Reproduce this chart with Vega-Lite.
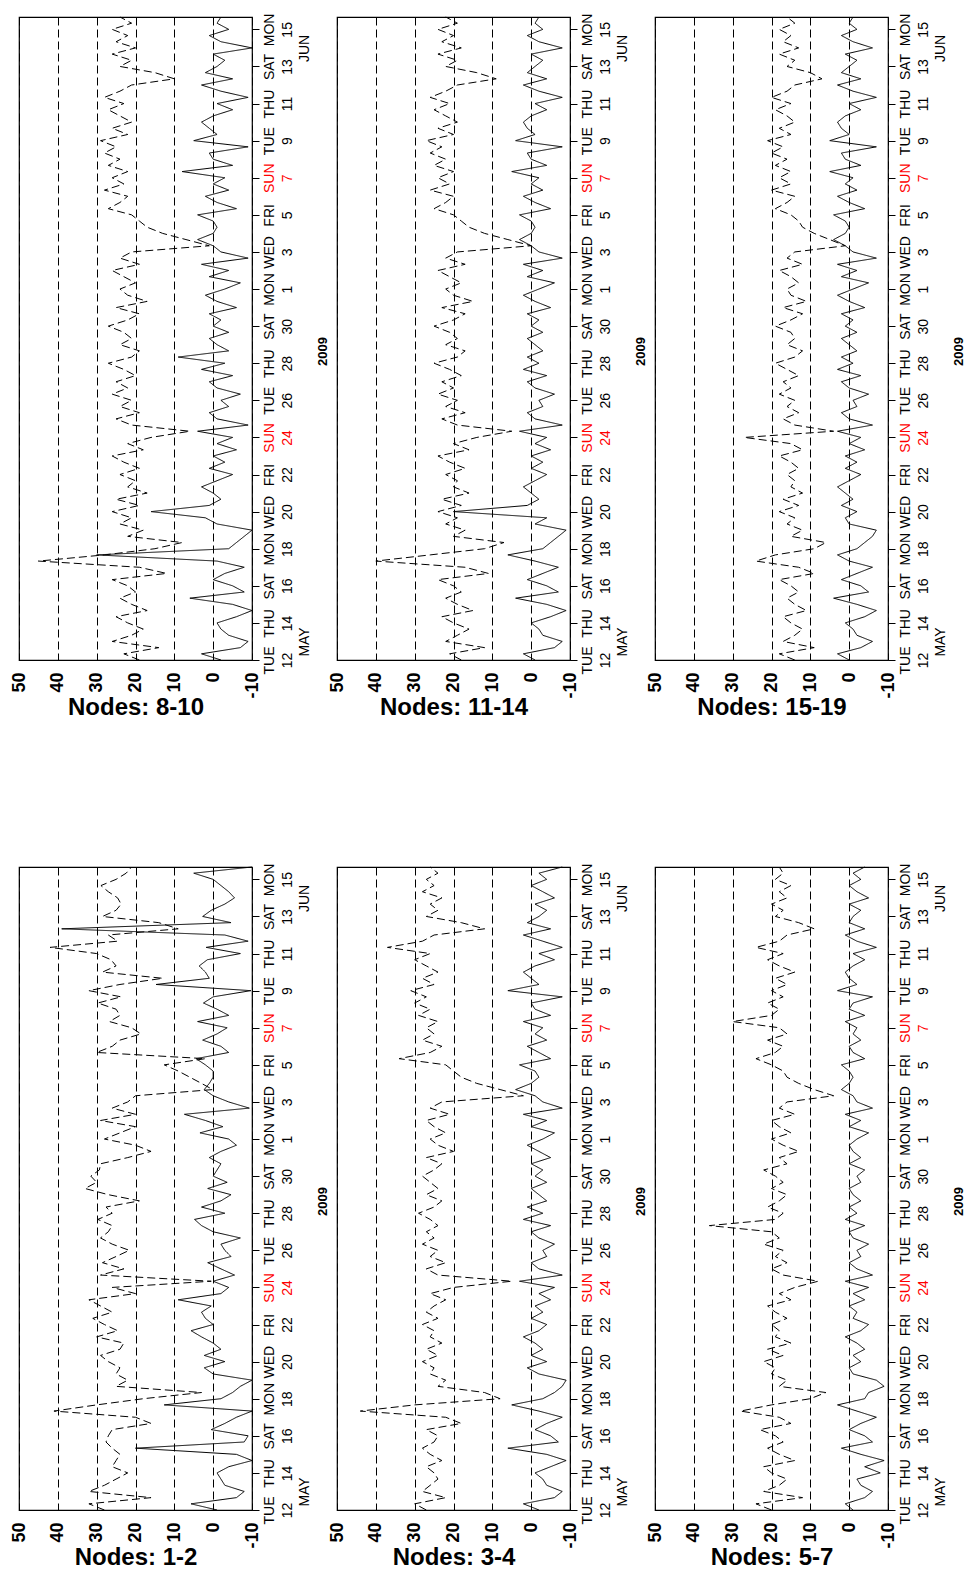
{
"$schema":"https://vega.github.io/schema/vega-lite/v6.json",
"background":"white",
"padding":{"left":9,"top":12,"right":0,"bottom":0},
"data":{"format":{"parse":{"t":"date:'%Y-%m-%d %H'"}},"values":[
{"t":"2009-05-12 00","a1":28,"a2":27,"a3":20,"a4":19,"a5":18,"a6":14,"b1":-1,"b2":-2,"b3":-1,"b4":-2,"b5":-1,"b6":0},
{"t":"2009-05-12 08","a1":32,"a2":30,"a3":24,"a4":23,"a5":21,"a6":18,"b1":5.7,"b2":2,"b3":1,"b4":3,"b5":2,"b6":3},
{"t":"2009-05-12 16","a1":16,"a2":22,"a3":12,"a4":14,"a5":12,"a6":9,"b1":-6,"b2":-6,"b3":-4,"b4":-7,"b5":-6,"b6":-3},
{"t":"2009-05-13 00","a1":32,"a2":28,"a3":22,"a4":26,"a5":22,"a6":17,"b1":-8,"b2":-8,"b3":-6,"b4":-9,"b5":-8,"b6":-6},
{"t":"2009-05-13 08","a1":28,"a2":26,"a3":18,"a4":21,"a5":19,"a6":14,"b1":-3,"b2":-4,"b3":-3,"b4":-4,"b5":-3,"b6":-2},
{"t":"2009-05-13 16","a1":25,"a2":24,"a3":16,"a4":18,"a5":16,"a6":12,"b1":-2,"b2":-3,"b3":-2,"b4":-2,"b5":-2,"b6":-1},
{"t":"2009-05-14 00","a1":22,"a2":25,"a3":20,"a4":22,"a5":20,"a6":15,"b1":-1,"b2":-1,"b3":-8,"b4":-1,"b5":0,"b6":1},
{"t":"2009-05-14 08","a1":26,"a2":27,"a3":22,"a4":25,"a5":23,"a6":17,"b1":-4,"b2":-5,"b3":-4,"b4":-6,"b5":-5,"b6":-4},
{"t":"2009-05-14 16","a1":25,"a2":23,"a3":14,"a4":17,"a5":15,"a6":11,"b1":-10,"b2":-9,"b3":-9,"b4":-10,"b5":-9,"b6":-7},
{"t":"2009-05-15 00","a1":24,"a2":26,"a3":18,"a4":21,"a5":19,"a6":14,"b1":-6,"b2":-4,"b3":-3,"b4":-5,"b5":-4,"b6":-2},
{"t":"2009-05-15 08","a1":26,"a2":28,"a3":21,"a4":24,"a5":22,"a6":16,"b1":20,"b2":6,"b3":2,"b4":6,"b5":4,"b6":4},
{"t":"2009-05-15 16","a1":27.6,"a2":25,"a3":17,"a4":20,"a5":18,"a6":13,"b1":-8,"b2":-7,"b3":-6,"b4":-8,"b5":-7,"b6":-5},
{"t":"2009-05-16 00","a1":27,"a2":24,"a3":19,"a4":22,"a5":20,"a6":15,"b1":-9,"b2":-5,"b3":-4,"b4":-5,"b5":-4,"b6":-3},
{"t":"2009-05-16 08","a1":26,"a2":27,"a3":23,"a4":26,"a5":24,"a6":18,"b1":0.5,"b2":-1,"b3":0,"b4":0,"b5":1,"b6":2},
{"t":"2009-05-16 16","a1":16,"a2":18,"a3":15,"a4":12,"a5":11,"a6":9,"b1":-3,"b2":-4,"b3":-3,"b4":-3,"b5":-3,"b6":-2},
{"t":"2009-05-17 00","a1":20,"a2":22,"a3":18,"a4":19,"a5":17,"a6":13,"b1":-6,"b2":-8,"b3":-7,"b4":-8,"b5":-7,"b6":-6},
{"t":"2009-05-17 08","a1":41,"a2":44,"a3":28,"a4":45,"a5":40,"a6":24,"b1":-10,"b2":-2,"b3":-2,"b4":-1,"b5":-1,"b6":0},
{"t":"2009-05-17 16","a1":30,"a2":30,"a3":20,"a4":28,"a5":26,"a6":19,"b1":12.6,"b2":5,"b3":3,"b4":30,"b5":6,"b6":3},
{"t":"2009-05-18 00","a1":18,"a2":8,"a3":10,"a4":15,"a5":12,"a6":9,"b1":-2,"b2":-3,"b3":-4,"b4":-4,"b5":-3,"b6":-2},
{"t":"2009-05-18 08","a1":3,"a2":12,"a3":6,"a4":8,"a5":7,"a6":6,"b1":-5,"b2":-6,"b3":-5,"b4":-6,"b5":-5,"b6":-4},
{"t":"2009-05-18 16","a1":25,"a2":24,"a3":18,"a4":22,"a5":20,"a6":15,"b1":-7,"b2":-8,"b3":-9,"b4":-8,"b5":-7,"b6":-6},
{"t":"2009-05-19 00","a1":22,"a2":22,"a3":16,"a4":18,"a5":17,"a6":12,"b1":-10,"b2":-9,"b3":-7,"b4":-10,"b5":-9,"b6":-7},
{"t":"2009-05-19 08","a1":25,"a2":26,"a3":20,"a4":24,"a5":22,"a6":16,"b1":0,"b2":-2,"b3":-1,"b4":-1,"b5":-1,"b6":0},
{"t":"2009-05-19 16","a1":24,"a2":25,"a3":19,"a4":21,"a5":19,"a6":14,"b1":2.3,"b2":1,"b3":0,"b4":2,"b5":-4,"b6":1},
{"t":"2009-05-20 00","a1":27,"a2":28,"a3":22,"a4":26,"a5":24,"a6":18,"b1":-3,"b2":-4,"b3":-3,"b4":16,"b5":20,"b6":-2},
{"t":"2009-05-20 08","a1":29,"a2":24,"a3":17,"a4":19,"a5":18,"a6":13,"b1":2.3,"b2":0,"b3":-1,"b4":1,"b5":1,"b6":2},
{"t":"2009-05-20 16","a1":24,"a2":27,"a3":21,"a4":25,"a5":23,"a6":17,"b1":-2,"b2":-3,"b3":-4,"b4":-2,"b5":-2,"b6":-1},
{"t":"2009-05-21 00","a1":23,"a2":23,"a3":15,"a4":17,"a5":16,"a6":12,"b1":0,"b2":-1,"b3":-2,"b4":0,"b5":0,"b6":1},
{"t":"2009-05-21 08","a1":30,"a2":26,"a3":19,"a4":22,"a5":20,"a6":15,"b1":3,"b2":2,"b3":1,"b4":3,"b5":2,"b6":3},
{"t":"2009-05-21 16","a1":24.6,"a2":25,"a3":18,"a4":20,"a5":19,"a6":14,"b1":5.7,"b2":-2,"b3":-3,"b4":-1,"b5":-1,"b6":0},
{"t":"2009-05-22 00","a1":28,"a2":28,"a3":20,"a4":24,"a5":22,"a6":16,"b1":0,"b2":-4,"b3":-5,"b4":-5,"b5":-4,"b6":-3},
{"t":"2009-05-22 08","a1":31,"a2":24,"a3":16,"a4":19,"a5":17,"a6":13,"b1":2,"b2":0,"b3":-1,"b4":1,"b5":0,"b6":1},
{"t":"2009-05-22 16","a1":26,"a2":27,"a3":19,"a4":23,"a5":21,"a6":15,"b1":3,"b2":-3,"b3":-2,"b4":-3,"b5":-3,"b6":-2},
{"t":"2009-05-23 00","a1":29,"a2":25,"a3":21,"a4":26,"a5":24,"a6":18,"b1":0.5,"b2":-1,"b3":0,"b4":0,"b5":0,"b6":1},
{"t":"2009-05-23 08","a1":32,"a2":22,"a3":15,"a4":18,"a5":16,"a6":12,"b1":9,"b2":-5,"b3":-4,"b4":-6,"b5":-5,"b6":-4},
{"t":"2009-05-23 16","a1":20,"a2":26,"a3":18,"a4":22,"a5":20,"a6":15,"b1":-2,"b2":-2,"b3":-1,"b4":-1,"b5":-1,"b6":0},
{"t":"2009-05-24 00","a1":26,"a2":20,"a3":14,"a4":16,"a5":14,"a6":27,"b1":-4,"b2":-6,"b3":-5,"b4":-5,"b5":-4,"b6":-3},
{"t":"2009-05-24 08","a1":0.5,"a2":5,"a3":8,"a4":6,"a5":5,"a6":4,"b1":0,"b2":3,"b3":1,"b4":4,"b5":3,"b6":3},
{"t":"2009-05-24 16","a1":29,"a2":24,"a3":17,"a4":21,"a5":19,"a6":14,"b1":-5.5,"b2":-8,"b3":-6,"b4":-9,"b5":-8,"b6":-6},
{"t":"2009-05-25 00","a1":23,"a2":27,"a3":20,"a4":25,"a5":23,"a6":17,"b1":-2,"b2":-2,"b3":-2,"b4":-1,"b5":-1,"b6":0},
{"t":"2009-05-25 08","a1":28.5,"a2":22,"a3":16,"a4":19,"a5":17,"a6":13,"b1":1.4,"b2":0,"b3":0,"b4":1,"b5":1,"b6":2},
{"t":"2009-05-25 16","a1":25,"a2":26,"a3":19,"a4":24,"a5":22,"a6":16,"b1":-4.6,"b2":-4,"b3":-3,"b4":-4,"b5":-3,"b6":-2},
{"t":"2009-05-26 00","a1":21.6,"a2":24,"a3":17,"a4":21,"a5":19,"a6":14,"b1":-3,"b2":-3,"b3":-2,"b4":-2,"b5":-2,"b6":-1},
{"t":"2009-05-26 08","a1":26,"a2":28,"a3":22,"a4":26,"a5":24,"a6":18,"b1":-2,"b2":-6,"b3":-5,"b4":-7,"b5":-6,"b6":-5},
{"t":"2009-05-26 16","a1":29,"a2":25,"a3":18,"a4":22,"a5":20,"a6":15,"b1":-7,"b2":-2,"b3":-1,"b4":-1,"b5":-1,"b6":0},
{"t":"2009-05-27 00","a1":27,"a2":27,"a3":20,"a4":25,"a5":23,"a6":17,"b1":0,"b2":0,"b3":0,"b4":1,"b5":1,"b6":2},
{"t":"2009-05-27 08","a1":26,"a2":24,"a3":36,"a4":20,"a5":18,"a6":13,"b1":3,"b2":-5,"b3":-4,"b4":-5,"b5":-4,"b6":-3},
{"t":"2009-05-27 16","a1":29.7,"a2":26,"a3":19,"a4":23,"a5":21,"a6":16,"b1":4.8,"b2":2,"b3":1,"b4":3,"b5":2,"b6":3},
{"t":"2009-05-28 00","a1":26,"a2":29,"a3":17,"a4":27,"a5":25,"a6":19,"b1":-3,"b2":-3,"b3":-2,"b4":-3,"b5":-2,"b6":-1},
{"t":"2009-05-28 08","a1":27.6,"a2":25,"a3":21,"a4":21,"a5":19,"a6":14,"b1":3,"b2":1,"b3":0,"b4":9,"b5":1,"b6":2},
{"t":"2009-05-28 16","a1":19,"a2":23,"a3":18,"a4":19,"a5":17,"a6":12,"b1":-2,"b2":-4,"b3":-3,"b4":-4,"b5":-3,"b6":-2},
{"t":"2009-05-29 00","a1":27,"a2":27,"a3":16,"a4":24,"a5":22,"a6":16,"b1":-4.6,"b2":-2,"b3":-1,"b4":-1,"b5":-1,"b6":0},
{"t":"2009-05-29 08","a1":33,"a2":24,"a3":20,"a4":21,"a5":19,"a6":14,"b1":1.4,"b2":0,"b3":0,"b4":1,"b5":1,"b6":2},
{"t":"2009-05-29 16","a1":30,"a2":26,"a3":17,"a4":23,"a5":21,"a6":15,"b1":-3.6,"b2":-4,"b3":-3,"b4":-4,"b5":-3,"b6":-2},
{"t":"2009-05-30 00","a1":31.5,"a2":28,"a3":19,"a4":27,"a5":25,"a6":19,"b1":0,"b2":-1,"b3":-2,"b4":0,"b5":0,"b6":1},
{"t":"2009-05-30 08","a1":29.3,"a2":25,"a3":22,"a4":22,"a5":20,"a6":15,"b1":-1,"b2":-3,"b3":-4,"b4":-2,"b5":-2,"b6":-1},
{"t":"2009-05-30 16","a1":29,"a2":23,"a3":16,"a4":19,"a5":17,"a6":12,"b1":-2,"b2":0,"b3":0,"b4":1,"b5":1,"b6":2},
{"t":"2009-05-31 00","a1":22,"a2":27,"a3":18,"a4":25,"a5":23,"a6":17,"b1":1,"b2":-5,"b3":-3,"b4":-6,"b5":-5,"b6":-4},
{"t":"2009-05-31 08","a1":16,"a2":20,"a3":13,"a4":17,"a5":15,"a6":11,"b1":-2,"b2":-2,"b3":-1,"b4":-1,"b5":-1,"b6":0},
{"t":"2009-05-31 16","a1":20,"a2":24,"a3":17,"a4":22,"a5":20,"a6":15,"b1":-6,"b2":1,"b3":0,"b4":2,"b5":2,"b6":3},
{"t":"2009-06-01 00","a1":28,"a2":26,"a3":20,"a4":24,"a5":22,"a6":16,"b1":-4,"b2":-3,"b3":-2,"b4":-3,"b5":-2,"b6":-1},
{"t":"2009-06-01 08","a1":24,"a2":22,"a3":15,"a4":20,"a5":18,"a6":13,"b1":3.4,"b2":-6,"b3":-5,"b4":-7,"b5":-6,"b6":-5},
{"t":"2009-06-01 16","a1":20,"a2":25,"a3":18,"a4":23,"a5":21,"a6":15,"b1":-2.5,"b2":0,"b3":0,"b4":1,"b5":1,"b6":2},
{"t":"2009-06-02 00","a1":29,"a2":27,"a3":20,"a4":26,"a5":24,"a6":18,"b1":2,"b2":-4,"b3":-3,"b4":-4,"b5":-3,"b6":-2},
{"t":"2009-06-02 08","a1":20,"a2":21,"a3":14,"a4":19,"a5":17,"a6":12,"b1":7.4,"b2":2,"b3":1,"b4":3,"b5":2,"b6":3},
{"t":"2009-06-02 16","a1":26,"a2":26,"a3":18,"a4":24,"a5":22,"a6":16,"b1":-9.3,"b2":-8,"b3":-6,"b4":-9,"b5":-8,"b6":-7},
{"t":"2009-06-03 00","a1":22,"a2":23,"a3":16,"a4":21,"a5":19,"a6":14,"b1":-4,"b2":-3,"b3":-2,"b4":-2,"b5":-2,"b6":-1},
{"t":"2009-06-03 08","a1":20,"a2":2,"a3":4,"a4":1,"a5":0,"a6":1,"b1":0,"b2":-1,"b3":-1,"b4":0,"b5":0,"b6":1},
{"t":"2009-06-03 16","a1":0.1,"a2":8,"a3":9,"a4":7,"a5":6,"a6":5,"b1":2.3,"b2":4,"b3":2,"b4":4,"b5":3,"b6":4},
{"t":"2009-06-04 00","a1":3,"a2":14,"a3":13,"a4":13,"a5":12,"a6":9,"b1":1,"b2":0,"b3":0,"b4":0,"b5":0,"b6":1},
{"t":"2009-06-04 08","a1":6,"a2":18,"a3":16,"a4":17,"a5":16,"a6":12,"b1":0,"b2":-2,"b3":-1,"b4":-1,"b5":-1,"b6":0},
{"t":"2009-06-04 16","a1":9,"a2":20,"a3":17,"a4":19,"a5":18,"a6":13,"b1":0,"b2":-1,"b3":0,"b4":0,"b5":0,"b6":1},
{"t":"2009-06-05 00","a1":12.6,"a2":22,"a3":20,"a4":21,"a5":20,"a6":15,"b1":2,"b2":3,"b3":2,"b4":4,"b5":3,"b6":4},
{"t":"2009-06-05 08","a1":2,"a2":34,"a3":24,"a4":27,"a5":25,"a6":19,"b1":4.4,"b2":-5,"b3":-4,"b4":-6,"b5":-5,"b6":-4},
{"t":"2009-06-05 16","a1":30,"a2":26,"a3":19,"a4":24,"a5":22,"a6":16,"b1":-4,"b2":-2,"b3":-1,"b4":-1,"b5":-1,"b6":0},
{"t":"2009-06-06 00","a1":26,"a2":23,"a3":17,"a4":22,"a5":20,"a6":14,"b1":-2,"b2":1,"b3":0,"b4":2,"b5":2,"b6":3},
{"t":"2009-06-06 08","a1":24,"a2":28,"a3":21,"a4":28,"a5":26,"a6":20,"b1":2.7,"b2":-4,"b3":-3,"b4":-4,"b5":-3,"b6":-2},
{"t":"2009-06-06 16","a1":18.6,"a2":25,"a3":16,"a4":23,"a5":21,"a6":15,"b1":-1,"b2":-1,"b3":-1,"b4":0,"b5":0,"b6":1},
{"t":"2009-06-07 00","a1":21,"a2":27,"a3":18,"a4":26,"a5":24,"a6":18,"b1":-3.6,"b2":-3,"b3":-2,"b4":-3,"b5":-2,"b6":-1},
{"t":"2009-06-07 08","a1":26.7,"a2":24,"a3":30,"a4":22,"a5":20,"a6":15,"b1":4,"b2":2,"b3":1,"b4":8,"b5":5,"b6":5},
{"t":"2009-06-07 16","a1":24,"a2":29,"a3":20,"a4":27,"a5":25,"a6":19,"b1":-4,"b2":-5,"b3":-4,"b4":-5,"b5":-4,"b6":-3},
{"t":"2009-06-08 00","a1":25,"a2":26,"a3":18,"a4":24,"a5":22,"a6":16,"b1":-1,"b2":-1,"b3":0,"b4":0,"b5":0,"b6":1},
{"t":"2009-06-08 08","a1":29.7,"a2":30,"a3":21,"a4":28,"a5":26,"a6":20,"b1":2.5,"b2":0,"b3":-1,"b4":1,"b5":1,"b6":2},
{"t":"2009-06-08 16","a1":23.7,"a2":27,"a3":17,"a4":25,"a5":23,"a6":17,"b1":0,"b2":-8,"b3":-6,"b4":-9,"b5":-8,"b6":-7},
{"t":"2009-06-09 00","a1":32,"a2":31,"a3":20,"a4":29,"a5":27,"a6":21,"b1":-9.7,"b2":6,"b3":3,"b4":5,"b5":4,"b6":5},
{"t":"2009-06-09 08","a1":24,"a2":25,"a3":16,"a4":22,"a5":20,"a6":15,"b1":14.7,"b2":-2,"b3":-2,"b4":-1,"b5":-1,"b6":0},
{"t":"2009-06-09 16","a1":13,"a2":28,"a3":19,"a4":26,"a5":24,"a6":18,"b1":1,"b2":0,"b3":0,"b4":1,"b5":1,"b6":2},
{"t":"2009-06-10 00","a1":28.5,"a2":24,"a3":14,"a4":21,"a5":19,"a6":14,"b1":2,"b2":2,"b3":1,"b4":3,"b5":2,"b6":3},
{"t":"2009-06-10 08","a1":25,"a2":27,"a3":18,"a4":24,"a5":22,"a6":16,"b1":3.6,"b2":-1,"b3":-1,"b4":0,"b5":0,"b6":1},
{"t":"2009-06-10 16","a1":26.3,"a2":30,"a3":21,"a4":27,"a5":25,"a6":19,"b1":1.5,"b2":-6,"b3":-4,"b4":-5,"b5":-4,"b6":-3},
{"t":"2009-06-11 00","a1":30,"a2":26,"a3":17,"a4":23,"a5":21,"a6":15,"b1":-7,"b2":-2,"b3":-1,"b4":-1,"b5":-1,"b6":0},
{"t":"2009-06-11 08","a1":42,"a2":37,"a3":24,"a4":28,"a5":26,"a6":20,"b1":1.8,"b2":-8,"b3":-7,"b4":-9,"b5":-8,"b6":-7},
{"t":"2009-06-11 16","a1":24.6,"a2":28,"a3":18,"a4":24,"a5":22,"a6":16,"b1":-9,"b2":-3,"b3":-2,"b4":-2,"b5":-2,"b6":-1},
{"t":"2009-06-12 00","a1":27,"a2":25,"a3":16,"a4":21,"a5":19,"a6":14,"b1":-3,"b2":2,"b3":1,"b4":3,"b5":2,"b6":3},
{"t":"2009-06-12 08","a1":9,"a2":12,"a3":9,"a4":10,"a5":9,"a6":7,"b1":39,"b2":-5,"b3":-4,"b4":-5,"b5":-4,"b6":-3},
{"t":"2009-06-12 16","a1":14,"a2":18,"a3":13,"a4":15,"a5":14,"a6":10,"b1":-4.6,"b2":1,"b3":0,"b4":2,"b5":1,"b6":2},
{"t":"2009-06-13 00","a1":28.5,"a2":27,"a3":19,"a4":24,"a5":22,"a6":16,"b1":2.7,"b2":-2,"b3":-1,"b4":-1,"b5":-1,"b6":0},
{"t":"2009-06-13 08","a1":25,"a2":24,"a3":17,"a4":21,"a5":19,"a6":14,"b1":0.5,"b2":-4,"b3":-3,"b4":-3,"b5":-3,"b6":-2},
{"t":"2009-06-13 16","a1":23.7,"a2":26,"a3":20,"a4":26,"a5":24,"a6":18,"b1":-3,"b2":-1,"b3":0,"b4":0,"b5":0,"b6":1},
{"t":"2009-06-14 00","a1":24.6,"a2":23,"a3":16,"a4":20,"a5":18,"a6":13,"b1":-5.5,"b2":-6,"b3":-5,"b4":-10,"b5":-8,"b6":-6},
{"t":"2009-06-14 08","a1":27,"a2":28,"a3":18,"a4":25,"a5":23,"a6":17,"b1":-4,"b2":-3,"b3":-2,"b4":-2,"b5":-2,"b6":-1},
{"t":"2009-06-14 16","a1":28.9,"a2":25,"a3":15,"a4":22,"a5":20,"a6":15,"b1":-2,"b2":0,"b3":0,"b4":1,"b5":1,"b6":2},
{"t":"2009-06-15 00","a1":25,"a2":27,"a3":19,"a4":26,"a5":24,"a6":18,"b1":0,"b2":-4,"b3":-3,"b4":-4,"b5":-3,"b6":-2},
{"t":"2009-06-15 08","a1":22.4,"a2":24,"a3":17,"a4":21,"a5":19,"a6":14,"b1":5,"b2":-2,"b3":-1,"b4":-1,"b5":-1,"b6":0},
{"t":"2009-06-15 16","a1":21,"a2":26,"a3":18,"a4":24,"a5":22,"a6":16,"b1":-10,"b2":-8,"b3":-4,"b4":-2,"b5":-2,"b6":-1}
]},
"bounds":"flush",
"columns":3,
"spacing":{"row":207,"column":85},
"concat":[
{"width":233,"height":643,"transform":[{"fold":["a4","b4"],"as":["s","v"]}],"layer":[
{"mark":{"type":"line","stroke":"black","strokeWidth":1},"encoding":{
"x":{"field":"v","type":"quantitative","scale":{"domain":[-10,50],"reverse":true,"nice":false,"zero":false},"axis":{"values":[50,40,30,20,10,0,-10],"labelExpr":"'' + datum.value","title":"Nodes: 8-10"}},
"y":{"field":"t","type":"temporal","scale":{"domain":[{"year":2009,"month":"may","date":12},{"year":2009,"month":"jun","date":15,"hours":16}]},"axis":{"orient":"right","title":null,"values":[{"year":2009,"month":"may","date":12},{"year":2009,"month":"may","date":14},{"year":2009,"month":"may","date":16},{"year":2009,"month":"may","date":18},{"year":2009,"month":"may","date":20},{"year":2009,"month":"may","date":22},{"year":2009,"month":"may","date":24},{"year":2009,"month":"may","date":26},{"year":2009,"month":"may","date":28},{"year":2009,"month":"may","date":30},{"year":2009,"month":"jun","date":1},{"year":2009,"month":"jun","date":3},{"year":2009,"month":"jun","date":5},{"year":2009,"month":"jun","date":7},{"year":2009,"month":"jun","date":9},{"year":2009,"month":"jun","date":11},{"year":2009,"month":"jun","date":13},{"year":2009,"month":"jun","date":15}],"labelExpr":"[upper(timeFormat(datum.value,'%a')), timeFormat(datum.value,'%-d')]","labelColor":{"condition":{"test":"day(datum.value)==0","value":"#ff0000"},"value":"black"}}},
"strokeDash":{"field":"s","type":"nominal","scale":{"domain":["a4","b4"],"range":[[8,4],[1,0]]},"legend":null},
"order":{"field":"t","type":"temporal"}}},
{"mark":{"type":"rule","opacity":0},"encoding":{"y":{"field":"t","type":"temporal","axis":{"orient":"right","values":[{"year":2009,"month":"may","date":13},{"year":2009,"month":"jun","date":14}],"labelExpr":"upper(timeFormat(datum.value,'%b'))","offset":43,"ticks":false,"tickSize":0,"labelPadding":2,"title":"2009","titleAngle":270,"titleBaseline":"top","titleFontSize":13,"titleFontWeight":"bold","titlePadding":5,"titleY":334,"titleColor":"black"}}}}
],"resolve":{"axis":{"y":"independent"}}},
{"width":233,"height":643,"transform":[{"fold":["a5","b5"],"as":["s","v"]}],"layer":[
{"mark":{"type":"line","stroke":"black","strokeWidth":1},"encoding":{
"x":{"field":"v","type":"quantitative","scale":{"domain":[-10,50],"reverse":true,"nice":false,"zero":false},"axis":{"values":[50,40,30,20,10,0,-10],"labelExpr":"'' + datum.value","title":"Nodes: 11-14"}},
"y":{"field":"t","type":"temporal","scale":{"domain":[{"year":2009,"month":"may","date":12},{"year":2009,"month":"jun","date":15,"hours":16}]},"axis":{"orient":"right","title":null,"values":[{"year":2009,"month":"may","date":12},{"year":2009,"month":"may","date":14},{"year":2009,"month":"may","date":16},{"year":2009,"month":"may","date":18},{"year":2009,"month":"may","date":20},{"year":2009,"month":"may","date":22},{"year":2009,"month":"may","date":24},{"year":2009,"month":"may","date":26},{"year":2009,"month":"may","date":28},{"year":2009,"month":"may","date":30},{"year":2009,"month":"jun","date":1},{"year":2009,"month":"jun","date":3},{"year":2009,"month":"jun","date":5},{"year":2009,"month":"jun","date":7},{"year":2009,"month":"jun","date":9},{"year":2009,"month":"jun","date":11},{"year":2009,"month":"jun","date":13},{"year":2009,"month":"jun","date":15}],"labelExpr":"[upper(timeFormat(datum.value,'%a')), timeFormat(datum.value,'%-d')]","labelColor":{"condition":{"test":"day(datum.value)==0","value":"#ff0000"},"value":"black"}}},
"strokeDash":{"field":"s","type":"nominal","scale":{"domain":["a5","b5"],"range":[[8,4],[1,0]]},"legend":null},
"order":{"field":"t","type":"temporal"}}},
{"mark":{"type":"rule","opacity":0},"encoding":{"y":{"field":"t","type":"temporal","axis":{"orient":"right","values":[{"year":2009,"month":"may","date":13},{"year":2009,"month":"jun","date":14}],"labelExpr":"upper(timeFormat(datum.value,'%b'))","offset":43,"ticks":false,"tickSize":0,"labelPadding":2,"title":"2009","titleAngle":270,"titleBaseline":"top","titleFontSize":13,"titleFontWeight":"bold","titlePadding":5,"titleY":334,"titleColor":"black"}}}}
],"resolve":{"axis":{"y":"independent"}}},
{"width":233,"height":643,"transform":[{"fold":["a6","b6"],"as":["s","v"]}],"layer":[
{"mark":{"type":"line","stroke":"black","strokeWidth":1},"encoding":{
"x":{"field":"v","type":"quantitative","scale":{"domain":[-10,50],"reverse":true,"nice":false,"zero":false},"axis":{"values":[50,40,30,20,10,0,-10],"labelExpr":"'' + datum.value","title":"Nodes: 15-19"}},
"y":{"field":"t","type":"temporal","scale":{"domain":[{"year":2009,"month":"may","date":12},{"year":2009,"month":"jun","date":15,"hours":16}]},"axis":{"orient":"right","title":null,"values":[{"year":2009,"month":"may","date":12},{"year":2009,"month":"may","date":14},{"year":2009,"month":"may","date":16},{"year":2009,"month":"may","date":18},{"year":2009,"month":"may","date":20},{"year":2009,"month":"may","date":22},{"year":2009,"month":"may","date":24},{"year":2009,"month":"may","date":26},{"year":2009,"month":"may","date":28},{"year":2009,"month":"may","date":30},{"year":2009,"month":"jun","date":1},{"year":2009,"month":"jun","date":3},{"year":2009,"month":"jun","date":5},{"year":2009,"month":"jun","date":7},{"year":2009,"month":"jun","date":9},{"year":2009,"month":"jun","date":11},{"year":2009,"month":"jun","date":13},{"year":2009,"month":"jun","date":15}],"labelExpr":"[upper(timeFormat(datum.value,'%a')), timeFormat(datum.value,'%-d')]","labelColor":{"condition":{"test":"day(datum.value)==0","value":"#ff0000"},"value":"black"}}},
"strokeDash":{"field":"s","type":"nominal","scale":{"domain":["a6","b6"],"range":[[8,4],[1,0]]},"legend":null},
"order":{"field":"t","type":"temporal"}}},
{"mark":{"type":"rule","opacity":0},"encoding":{"y":{"field":"t","type":"temporal","axis":{"orient":"right","values":[{"year":2009,"month":"may","date":13},{"year":2009,"month":"jun","date":14}],"labelExpr":"upper(timeFormat(datum.value,'%b'))","offset":43,"ticks":false,"tickSize":0,"labelPadding":2,"title":"2009","titleAngle":270,"titleBaseline":"top","titleFontSize":13,"titleFontWeight":"bold","titlePadding":5,"titleY":334,"titleColor":"black"}}}}
],"resolve":{"axis":{"y":"independent"}}},
{"width":233,"height":643,"transform":[{"fold":["a1","b1"],"as":["s","v"]}],"layer":[
{"mark":{"type":"line","stroke":"black","strokeWidth":1},"encoding":{
"x":{"field":"v","type":"quantitative","scale":{"domain":[-10,50],"reverse":true,"nice":false,"zero":false},"axis":{"values":[50,40,30,20,10,0,-10],"labelExpr":"'' + datum.value","title":"Nodes: 1-2"}},
"y":{"field":"t","type":"temporal","scale":{"domain":[{"year":2009,"month":"may","date":12},{"year":2009,"month":"jun","date":15,"hours":16}]},"axis":{"orient":"right","title":null,"values":[{"year":2009,"month":"may","date":12},{"year":2009,"month":"may","date":14},{"year":2009,"month":"may","date":16},{"year":2009,"month":"may","date":18},{"year":2009,"month":"may","date":20},{"year":2009,"month":"may","date":22},{"year":2009,"month":"may","date":24},{"year":2009,"month":"may","date":26},{"year":2009,"month":"may","date":28},{"year":2009,"month":"may","date":30},{"year":2009,"month":"jun","date":1},{"year":2009,"month":"jun","date":3},{"year":2009,"month":"jun","date":5},{"year":2009,"month":"jun","date":7},{"year":2009,"month":"jun","date":9},{"year":2009,"month":"jun","date":11},{"year":2009,"month":"jun","date":13},{"year":2009,"month":"jun","date":15}],"labelExpr":"[upper(timeFormat(datum.value,'%a')), timeFormat(datum.value,'%-d')]","labelColor":{"condition":{"test":"day(datum.value)==0","value":"#ff0000"},"value":"black"}}},
"strokeDash":{"field":"s","type":"nominal","scale":{"domain":["a1","b1"],"range":[[8,4],[1,0]]},"legend":null},
"order":{"field":"t","type":"temporal"}}},
{"mark":{"type":"rule","opacity":0},"encoding":{"y":{"field":"t","type":"temporal","axis":{"orient":"right","values":[{"year":2009,"month":"may","date":13},{"year":2009,"month":"jun","date":14}],"labelExpr":"upper(timeFormat(datum.value,'%b'))","offset":43,"ticks":false,"tickSize":0,"labelPadding":2,"title":"2009","titleAngle":270,"titleBaseline":"top","titleFontSize":13,"titleFontWeight":"bold","titlePadding":5,"titleY":334,"titleColor":"black"}}}}
],"resolve":{"axis":{"y":"independent"}}},
{"width":233,"height":643,"transform":[{"fold":["a2","b2"],"as":["s","v"]}],"layer":[
{"mark":{"type":"line","stroke":"black","strokeWidth":1},"encoding":{
"x":{"field":"v","type":"quantitative","scale":{"domain":[-10,50],"reverse":true,"nice":false,"zero":false},"axis":{"values":[50,40,30,20,10,0,-10],"labelExpr":"'' + datum.value","title":"Nodes: 3-4"}},
"y":{"field":"t","type":"temporal","scale":{"domain":[{"year":2009,"month":"may","date":12},{"year":2009,"month":"jun","date":15,"hours":16}]},"axis":{"orient":"right","title":null,"values":[{"year":2009,"month":"may","date":12},{"year":2009,"month":"may","date":14},{"year":2009,"month":"may","date":16},{"year":2009,"month":"may","date":18},{"year":2009,"month":"may","date":20},{"year":2009,"month":"may","date":22},{"year":2009,"month":"may","date":24},{"year":2009,"month":"may","date":26},{"year":2009,"month":"may","date":28},{"year":2009,"month":"may","date":30},{"year":2009,"month":"jun","date":1},{"year":2009,"month":"jun","date":3},{"year":2009,"month":"jun","date":5},{"year":2009,"month":"jun","date":7},{"year":2009,"month":"jun","date":9},{"year":2009,"month":"jun","date":11},{"year":2009,"month":"jun","date":13},{"year":2009,"month":"jun","date":15}],"labelExpr":"[upper(timeFormat(datum.value,'%a')), timeFormat(datum.value,'%-d')]","labelColor":{"condition":{"test":"day(datum.value)==0","value":"#ff0000"},"value":"black"}}},
"strokeDash":{"field":"s","type":"nominal","scale":{"domain":["a2","b2"],"range":[[8,4],[1,0]]},"legend":null},
"order":{"field":"t","type":"temporal"}}},
{"mark":{"type":"rule","opacity":0},"encoding":{"y":{"field":"t","type":"temporal","axis":{"orient":"right","values":[{"year":2009,"month":"may","date":13},{"year":2009,"month":"jun","date":14}],"labelExpr":"upper(timeFormat(datum.value,'%b'))","offset":43,"ticks":false,"tickSize":0,"labelPadding":2,"title":"2009","titleAngle":270,"titleBaseline":"top","titleFontSize":13,"titleFontWeight":"bold","titlePadding":5,"titleY":334,"titleColor":"black"}}}}
],"resolve":{"axis":{"y":"independent"}}},
{"width":233,"height":643,"transform":[{"fold":["a3","b3"],"as":["s","v"]}],"layer":[
{"mark":{"type":"line","stroke":"black","strokeWidth":1},"encoding":{
"x":{"field":"v","type":"quantitative","scale":{"domain":[-10,50],"reverse":true,"nice":false,"zero":false},"axis":{"values":[50,40,30,20,10,0,-10],"labelExpr":"'' + datum.value","title":"Nodes: 5-7"}},
"y":{"field":"t","type":"temporal","scale":{"domain":[{"year":2009,"month":"may","date":12},{"year":2009,"month":"jun","date":15,"hours":16}]},"axis":{"orient":"right","title":null,"values":[{"year":2009,"month":"may","date":12},{"year":2009,"month":"may","date":14},{"year":2009,"month":"may","date":16},{"year":2009,"month":"may","date":18},{"year":2009,"month":"may","date":20},{"year":2009,"month":"may","date":22},{"year":2009,"month":"may","date":24},{"year":2009,"month":"may","date":26},{"year":2009,"month":"may","date":28},{"year":2009,"month":"may","date":30},{"year":2009,"month":"jun","date":1},{"year":2009,"month":"jun","date":3},{"year":2009,"month":"jun","date":5},{"year":2009,"month":"jun","date":7},{"year":2009,"month":"jun","date":9},{"year":2009,"month":"jun","date":11},{"year":2009,"month":"jun","date":13},{"year":2009,"month":"jun","date":15}],"labelExpr":"[upper(timeFormat(datum.value,'%a')), timeFormat(datum.value,'%-d')]","labelColor":{"condition":{"test":"day(datum.value)==0","value":"#ff0000"},"value":"black"}}},
"strokeDash":{"field":"s","type":"nominal","scale":{"domain":["a3","b3"],"range":[[8,4],[1,0]]},"legend":null},
"order":{"field":"t","type":"temporal"}}},
{"mark":{"type":"rule","opacity":0},"encoding":{"y":{"field":"t","type":"temporal","axis":{"orient":"right","values":[{"year":2009,"month":"may","date":13},{"year":2009,"month":"jun","date":14}],"labelExpr":"upper(timeFormat(datum.value,'%b'))","offset":43,"ticks":false,"tickSize":0,"labelPadding":2,"title":"2009","titleAngle":270,"titleBaseline":"top","titleFontSize":13,"titleFontWeight":"bold","titlePadding":5,"titleY":334,"titleColor":"black"}}}}
],"resolve":{"axis":{"y":"independent"}}}
],
"config":{
"font":"Liberation Sans",
"view":{"stroke":"black","strokeWidth":1.2},
"axisX":{"grid":true,"gridDash":[8,4],"gridColor":"black","gridOpacity":1,"gridWidth":1,"ticks":false,"tickSize":0,"domain":false,"labelAngle":270,"labelFontSize":18,"labelFontWeight":"bold","labelPadding":12,"labelColor":"black","labelFont":"Liberation Sans","titleFont":"Liberation Sans","titleFontSize":24,"titleFontWeight":"bold","titleColor":"black","titlePadding":-3,"labelOverlap":false,"labelFlush":false,"labelBound":false},
"axisY":{"grid":false,"domain":false,"tickColor":"black","tickSize":7,"tickWidth":1,"labelAngle":270,"labelAlign":"center","labelBaseline":"top","labelFontSize":14,"labelLineHeight":18,"labelPadding":3,"labelOverlap":false,"labelFlush":false,"labelBound":false,"labelFont":"Liberation Sans","titleFont":"Liberation Sans"}
}
}
